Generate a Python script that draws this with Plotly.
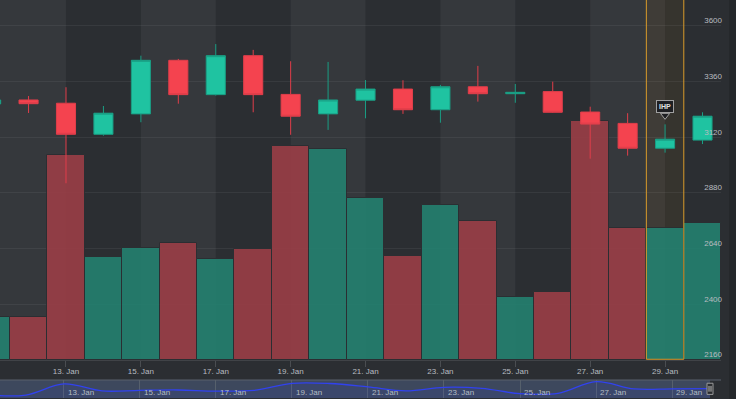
import plotly.graph_objects as go
import pandas as pd

# ---------------- data ----------------
dates = ["2020-01-11", "2020-01-12", "2020-01-13", "2020-01-14", "2020-01-15",
         "2020-01-16", "2020-01-17", "2020-01-18", "2020-01-19", "2020-01-20",
         "2020-01-21", "2020-01-22", "2020-01-23", "2020-01-24", "2020-01-25",
         "2020-01-26", "2020-01-27", "2020-01-28", "2020-01-29", "2020-01-30"]
open_ = [3264, 3281, 3267, 3133, 3221, 3452, 3304, 3472, 3305, 3221,
         3280, 3328, 3239, 3338, 3308, 3317, 3229, 3180, 3073, 3108]
high = [3300, 3298, 3336, 3255, 3472, 3458, 3522, 3497, 3448, 3445,
        3367, 3366, 3346, 3428, 3350, 3360, 3252, 3224, 3176, 3228]
low = [3250, 3225, 2922, 3127, 3185, 3265, 3300, 3228, 3131, 3152,
       3202, 3221, 3183, 3274, 3269, 3226, 3028, 3041, 3054, 3091]
close = [3281, 3265, 3133, 3224, 3452, 3304, 3472, 3304, 3211, 3281,
         3328, 3239, 3338, 3308, 3314, 3228, 3177, 3073, 3112, 3211]
volume = [433, 433, 2047, 1027, 1117, 1167, 1007, 1107, 2140, 2110,
          1620, 1043, 1547, 1393, 630, 683, 2387, 1320, 1320, 1367]

tick_dates = ["2020-01-13", "2020-01-15", "2020-01-17", "2020-01-19", "2020-01-21",
              "2020-01-23", "2020-01-25", "2020-01-27", "2020-01-29"]
light_band_starts = ["2020-01-09", "2020-01-11", "2020-01-15", "2020-01-19",
                     "2020-01-23", "2020-01-27"]
price_ticks = [2160, 2400, 2640, 2880, 3120, 3360, 3600]
price_labels = [str(v) for v in price_ticks]

flag_date = "2020-01-29"
flag_title = "IHP"
highlight_date = "2020-01-29"
nav_handle_date = "2020-01-30"

# ---------------- style ----------------
BG_DARK = "#2b2e32"
BG_LIGHT = "#35383c"
UP = "#1fc3a1"
UP_LINE = "#1a9e84"
DOWN = "#f4434f"
DOWN_LINE = "#e03e4a"
UP_VOL = "#248170"
DOWN_VOL = "#9a3e46"
TXT = "#b8bcc0"
ORANGE = "#d99a2b"

PRICE_MIN, PRICE_MAX = 2160, 3712
VOL_MAX = 3600
MAIN_BOTTOM = 38 / 398
NAV_TOP = 18 / 398

x_range = ["2020-01-11 05:42", "2020-01-30 11:51"]
nav_range = ["2020-01-11 07:35", "2020-01-30 06:57"]

vol_colors = [UP_VOL if c >= o else DOWN_VOL for o, c in zip(open_, close)]

fig = go.Figure()

fig.add_trace(go.Bar(
    x=dates, y=volume, xaxis="x", yaxis="y",
    marker=dict(color=vol_colors, line=dict(color=BG_DARK, width=1)),
    opacity=0.9, hoverinfo="skip", showlegend=False))

fig.add_trace(go.Candlestick(
    x=dates, open=open_, high=high, low=low, close=close,
    xaxis="x", yaxis="y2", whiskerwidth=0,
    increasing=dict(line=dict(color=UP_LINE, width=1), fillcolor=UP),
    decreasing=dict(line=dict(color=DOWN_LINE, width=1), fillcolor=DOWN),
    hoverinfo="skip", showlegend=False))

# navigator series
fig.add_trace(go.Scatter(
    x=dates, y=volume, xaxis="x2", yaxis="y3", mode="lines",
    line=dict(color="#3142ee", width=1.3, shape="spline", smoothing=1),
    fill="tozeroy", fillcolor="rgba(49,66,238,0.10)",
    hoverinfo="skip", showlegend=False))

# flag pin
fi = dates.index(flag_date)
units_per_px = (PRICE_MAX - PRICE_MIN) / 360.0
fig.add_trace(go.Scatter(
    x=[flag_date], y=[high[fi] + 9 * units_per_px], xaxis="x", yaxis="y2",
    mode="markers",
    marker=dict(symbol="triangle-down", size=8, color="#1e1f22",
                line=dict(color="#a0a0a0", width=1)),
    hoverinfo="skip", showlegend=False))

shapes = []
for s in light_band_starts:
    e = (pd.Timestamp(s) + pd.Timedelta(days=2)).strftime("%Y-%m-%d")
    shapes.append(dict(type="rect", xref="x", yref="y domain", x0=s, x1=e,
                       y0=0, y1=1, fillcolor=BG_LIGHT, line=dict(width=0),
                       layer="below"))
hd = pd.Timestamp(highlight_date)
h0 = (hd - pd.Timedelta(hours=12)).strftime("%Y-%m-%d %H:%M")
h1 = (hd + pd.Timedelta(hours=12)).strftime("%Y-%m-%d %H:%M")
shapes.append(dict(type="rect", xref="x", yref="y domain", x0=h0, x1=h1,
                   y0=0, y1=1, fillcolor="rgba(130,95,20,0.13)",
                   line=dict(width=0), layer="below"))
shapes.append(dict(type="rect", xref="x", yref="y domain", x0=h0, x1=h1,
                   y0=0.002, y1=1.05, fillcolor="rgba(0,0,0,0)",
                   line=dict(color=ORANGE, width=1), layer="above"))
# navigator mask
shapes.append(dict(type="rect", xref="x2", yref="y3 domain",
                   x0="2020-01-10", x1=nav_handle_date, y0=0, y1=1,
                   fillcolor="rgba(102,133,194,0.30)", line=dict(width=0),
                   layer="below"))
shapes.append(dict(type="line", xref="paper", yref="y3 domain", x0=0, x1=1,
                   y0=1, y1=1, line=dict(color="#5a616c", width=1)))
# navigator handle
shapes.append(dict(type="rect", xref="x2", yref="y3 domain", xsizemode="pixel",
                   xanchor=nav_handle_date, x0=-3, x1=3, y0=0.2, y1=0.82,
                   fillcolor="#2a2c2f", line=dict(color="#9a9a9a", width=1)))
for off in (-1, 1):
    shapes.append(dict(type="line", xref="x2", yref="y3 domain", xsizemode="pixel",
                       xanchor=nav_handle_date, x0=off, x1=off, y0=0.35, y1=0.67,
                       line=dict(color="#bbbbbb", width=1)))
# dark strip at right border
shapes.append(dict(type="rect", xref="paper", yref="paper", x0=729 / 721, x1=1.03,
                   y0=-0.01, y1=1.01, fillcolor="#25282b", line=dict(width=0)))

annotations = [dict(
    x=flag_date, y=high[fi], xref="x", yref="y2", text="<b>%s</b>" % flag_title,
    showarrow=False, yanchor="bottom", yshift=11,
    bgcolor="#1e1f22", bordercolor="#a0a0a0", borderwidth=1, borderpad=2,
    font=dict(size=7, color="#e0e0e0"))]

fig.update_layout(
    width=736, height=399,
    margin=dict(l=0, r=15, t=0, b=1),
    paper_bgcolor=BG_DARK, plot_bgcolor=BG_DARK,
    showlegend=False, bargap=0, boxgap=0.49, boxgroupgap=0,
    font=dict(family="Liberation Sans, Arial, sans-serif", size=8, color=TXT),
    shapes=shapes, annotations=annotations,
    xaxis=dict(type="date", range=x_range, domain=[0, 1], anchor="y",
               rangeslider=dict(visible=False), tickmode="array",
               tickvals=tick_dates, tickformat="%d. %b", ticks="outside",
               ticklen=6, tickcolor="#4a4d51", showgrid=False, showline=True,
               linecolor="#404347", zeroline=False, ticklabelstandoff=-3,
               tickfont=dict(size=8, color=TXT)),
    yaxis=dict(domain=[MAIN_BOTTOM, 1], range=[0, VOL_MAX], visible=False,
               showgrid=False, zeroline=False),
    yaxis2=dict(overlaying="y", side="right", anchor="x",
                range=[PRICE_MIN, PRICE_MAX], tickmode="array",
                tickvals=price_ticks, ticktext=price_labels,
                ticklabelposition="inside top", ticklabelstandoff=-4,
                showgrid=True,
                gridcolor="rgba(255,255,255,0.06)", zeroline=False,
                showline=False, ticks="", tickfont=dict(size=8, color=TXT)),
    xaxis2=dict(type="date", range=nav_range, domain=[0, 1], anchor="y3",
                rangeslider=dict(visible=False), tickmode="array",
                tickvals=tick_dates, tickformat="%d. %b",
                ticklabelposition="inside right", ticklabelstandoff=-5,
                ticklabelshift=4, showgrid=True,
                gridcolor="#56606c", ticks="", showline=False, zeroline=False,
                tickfont=dict(size=8, color="#b4bcc4")),
    yaxis3=dict(domain=[0, NAV_TOP], range=[0, 2620], visible=False,
                showgrid=False, zeroline=False),
)

fig.write_html("out.html",
               config={"displayModeBar": False},
               post_script="document.body.style.margin='0';"
                           "document.body.style.overflow='hidden';"
                           "document.body.style.background='#2b2e32';")
